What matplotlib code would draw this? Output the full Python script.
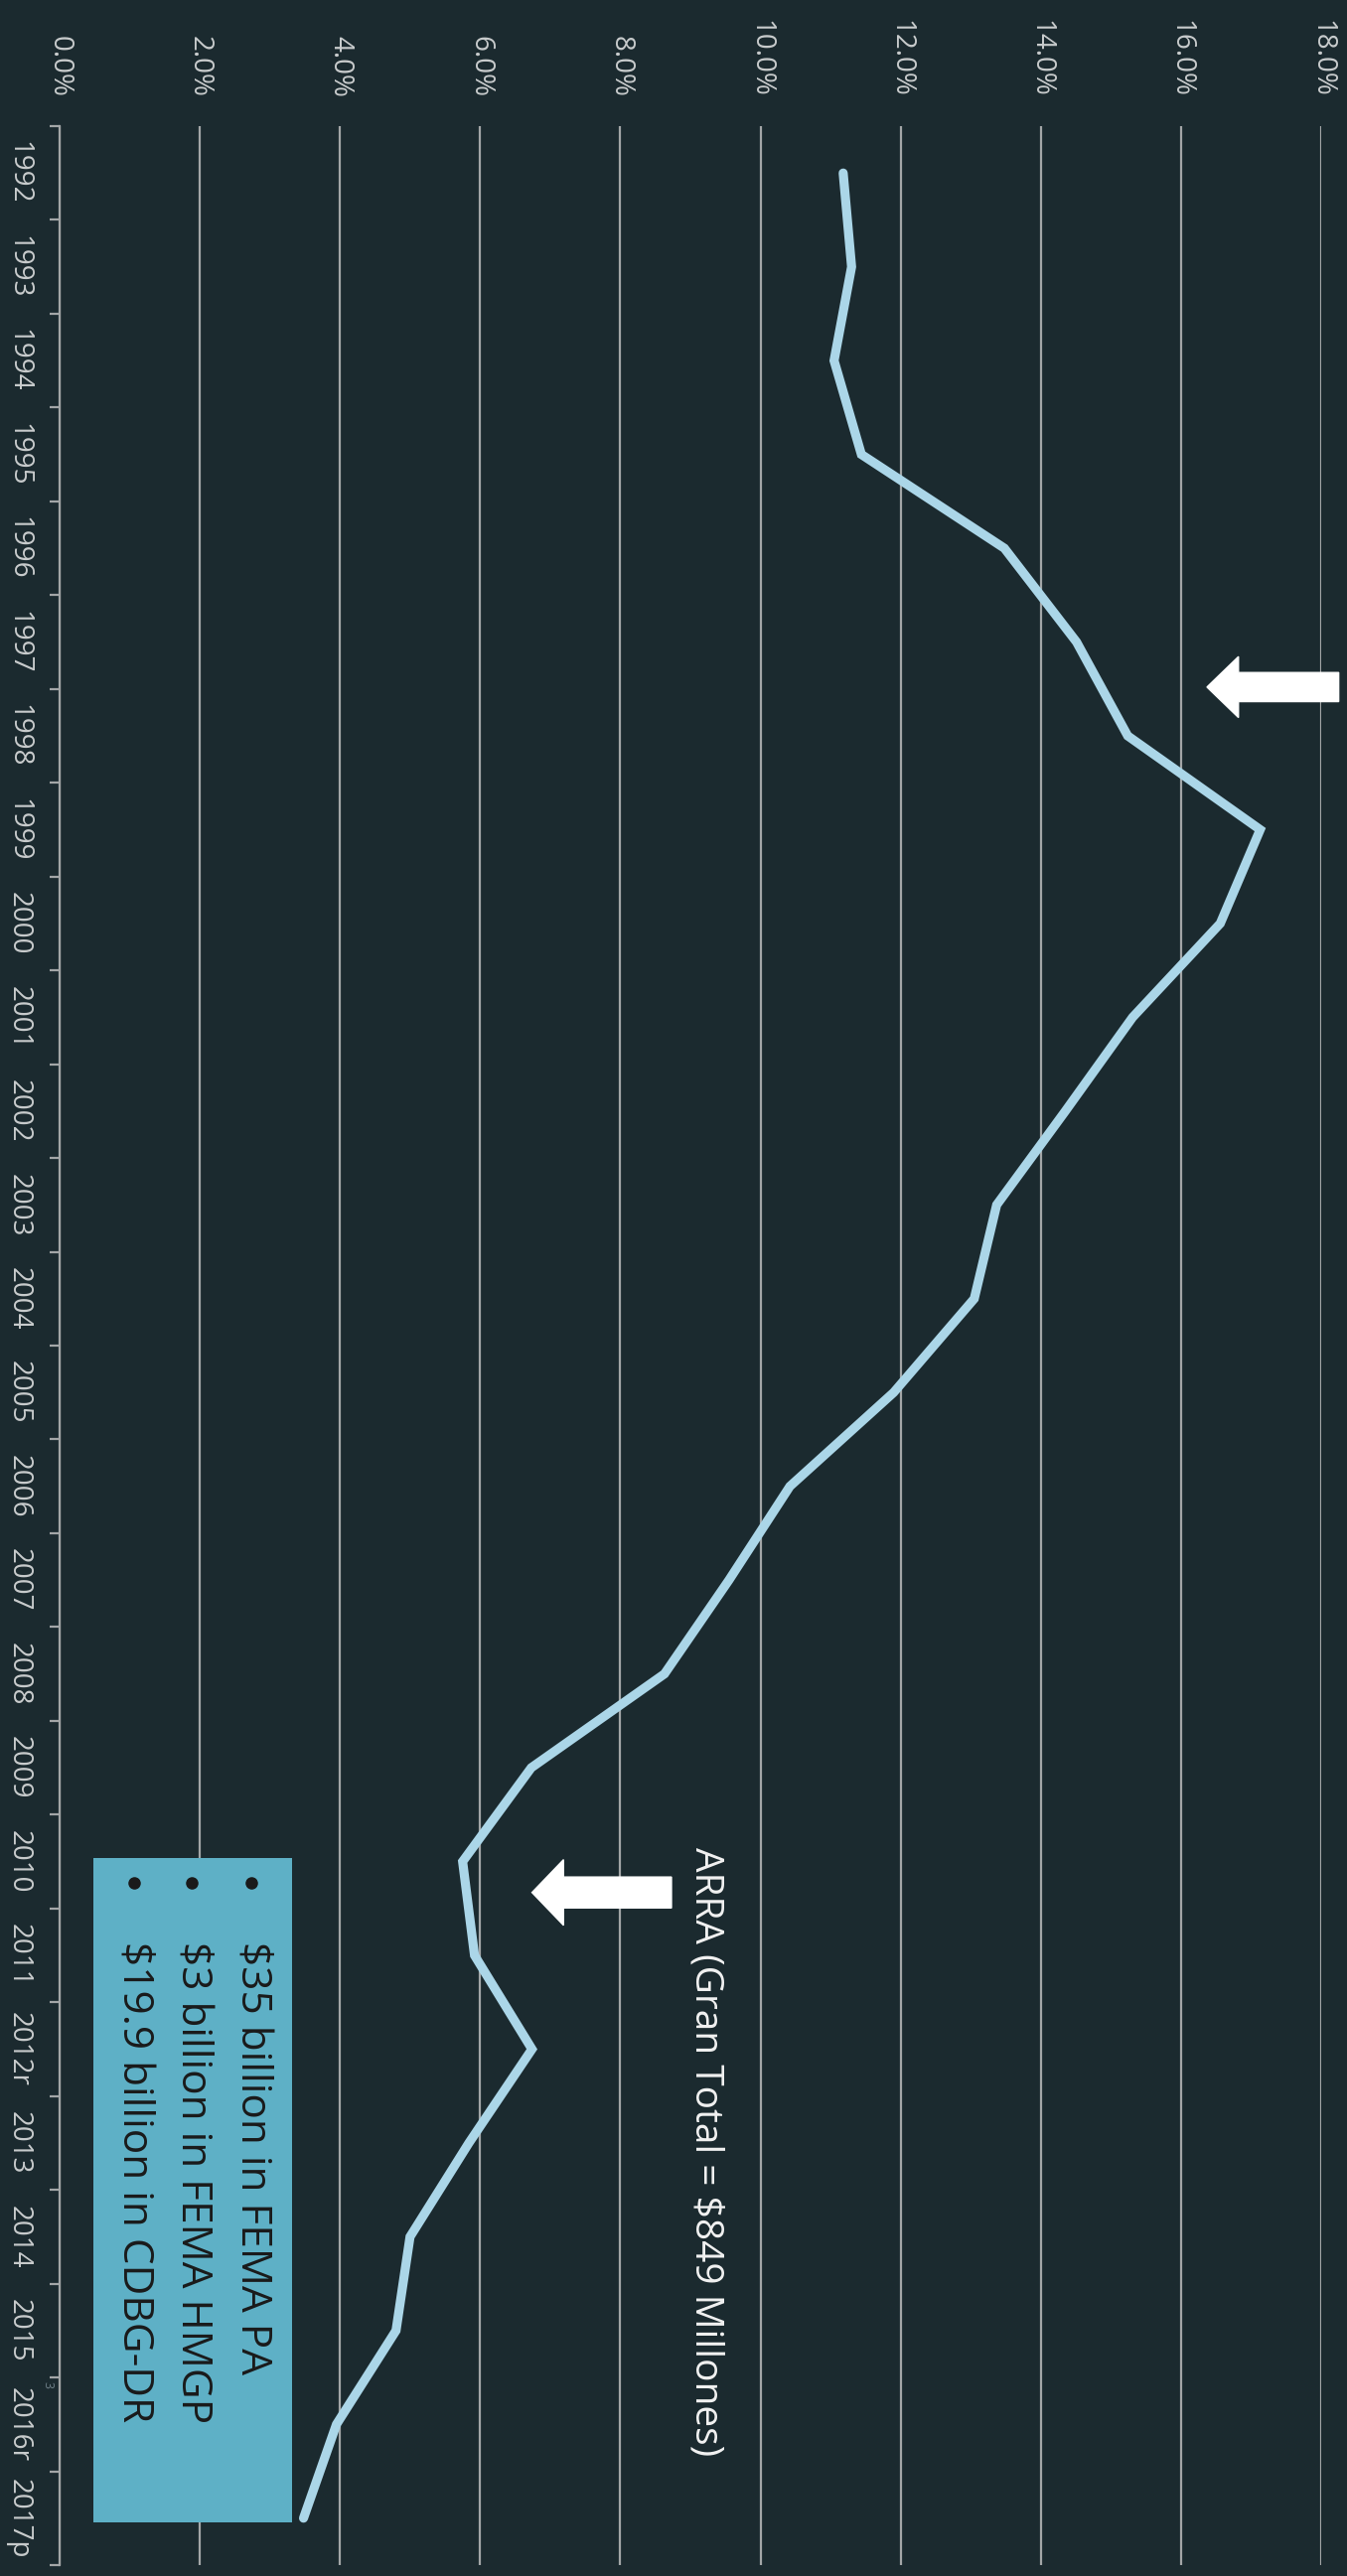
import matplotlib
matplotlib.use("Agg")
import matplotlib.pyplot as plt
from matplotlib.patches import FancyArrow, Rectangle

# share of total (%) by year
years = ["1992", "1993", "1994", "1995", "1996", "1997", "1998", "1999", "2000",
         "2001", "2002", "2003", "2004", "2005", "2006", "2007", "2008", "2009",
         "2010", "2011", "2012r", "2013", "2014", "2015", "2016r", "2017p"]
share = [11.18, 11.30, 11.05, 11.44, 13.48, 14.51, 15.24, 17.13, 16.56,
         15.31, 14.35, 13.37, 13.05, 11.90, 10.42, 9.55, 8.63, 6.73,
         5.75, 5.92, 6.74, 5.84, 5.00, 4.80, 3.95, 3.48]
pct_ticks = [0, 2, 4, 6, 8, 10, 12, 14, 16, 18]

arra_note = "ARRA (Gran Total = $849 Millones)"
box_lines = ["$35 billion in FEMA PA",
             "$3 billion in FEMA HMGP",
             "$19.9 billion in CDBG-DR"]

BG = "#1b2a2f"
LINE = "#abd6e8"
GRID = "#a3a6a7"
TXT = "#c9cccd"
BOX = "#5eb0c6"

plt.rcParams["font.family"] = ["Open Sans", "DejaVu Sans"]

W, H = 1356, 2594
fig = plt.figure(figsize=(W / 100, H / 100), dpi=100, facecolor=BG)
left, right, top, bottom = 60, 1330, 127, 2583
ax = fig.add_axes([left / W, 1 - bottom / H, (right - left) / W, (bottom - top) / H])
ax.set_facecolor(BG)

pos = list(range(len(years)))
ax.plot(share, pos, color=LINE, lw=6.6, solid_capstyle="round",
        solid_joinstyle="miter", zorder=3)

ax.set_xlim(0, 18)
ax.set_ylim(len(years) - 0.5, -0.5)

# value axis (drawn on top, rotated with the whole chart)
ax.xaxis.tick_top()
ax.set_xticks(pct_ticks)
ax.set_xticklabels([f"{v:.1f}%" for v in pct_ticks], rotation=-90,
                   fontsize=20, color=TXT)
ax.tick_params(axis="x", length=0, pad=21)
ax.grid(axis="x", color=GRID, lw=1.6, zorder=1)
ax.set_axisbelow(True)

# category axis
ax.set_yticks(pos)
ax.set_yticklabels(years, rotation=-90, fontsize=20, color=TXT, va="center")
ax.set_yticks([p - 0.5 for p in pos] + [len(years) - 0.5], minor=True)
ax.tick_params(axis="y", which="major", length=0, pad=20)
ax.tick_params(axis="y", which="minor", length=7.5, width=1.6, color=GRID)
for s in ["top", "right", "bottom"]:
    ax.spines[s].set_visible(False)
ax.spines["left"].set_color(GRID)
ax.spines["left"].set_linewidth(1.6)

# arrows
ax.add_patch(FancyArrow(18.25, 5.48, -1.88, 0, width=0.31, head_width=0.65,
                        head_length=0.45, length_includes_head=True,
                        color="white", clip_on=False, zorder=5))
ax.add_patch(FancyArrow(8.73, 18.33, -1.99, 0, width=0.33, head_width=0.70,
                        head_length=0.45, length_includes_head=True,
                        color="white", clip_on=False, zorder=5))

ax.text(9.22, 17.85, arra_note, rotation=-90, rotation_mode="anchor",
        ha="left", va="center", fontsize=28, color="#f2f2f2", zorder=6)

# info box
ax.add_patch(Rectangle((0.48, 17.96), 2.83, 7.08, facecolor=BOX,
                       edgecolor="none", zorder=4))
for xc, line in zip([2.74, 1.89, 1.06], box_lines):
    ax.plot(xc, 18.23, marker="o", ms=8, color="#1a1a1a", zorder=6)
    ax.text(xc, 18.85, line, rotation=-90, rotation_mode="anchor",
            ha="left", va="center", fontsize=30.5, color="#1a1a1a", zorder=6)

fig.text(48 / W, 1 - 2402 / H, "3", rotation=-90, ha="center", va="center",
         fontsize=9, color="#6f8088")

fig.savefig("out.png", dpi=100, facecolor=BG)
